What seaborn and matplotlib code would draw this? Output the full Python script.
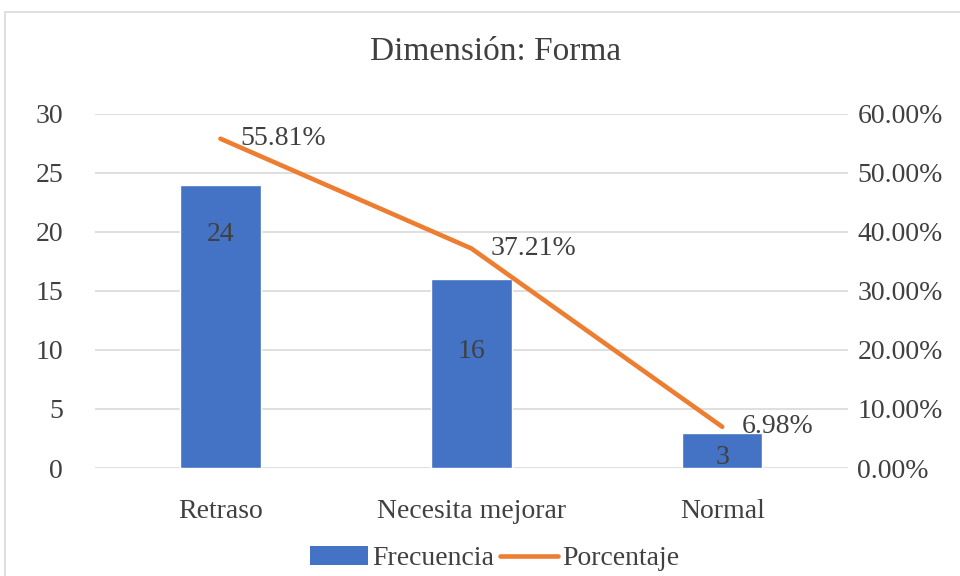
import pandas as pd
import matplotlib.pyplot as plt
import seaborn as sns
from matplotlib.patches import Patch, Rectangle
from matplotlib.lines import Line2D

# datos del gráfico
categorias = ["Retraso", "Necesita mejorar", "Normal"]
frecuencia = [24, 16, 3]
porcentaje = [55.81, 37.21, 6.98]
etiquetas_pct = ["55.81%", "37.21%", "6.98%"]
ticks_izq = [0, 5, 10, 15, 20, 25, 30]
ticks_der = [0, 10, 20, 30, 40, 50, 60]

azul = "#4472C4"
naranja = "#ED7D31"
gris_texto = "#404040"

sns.set_style("white")
plt.rcParams["font.family"] = ["Liberation Serif", "DejaVu Serif"]

df = pd.DataFrame({"categoria": categorias, "frecuencia": frecuencia, "porcentaje": porcentaje})

fig = plt.figure(figsize=(9.6, 5.76), dpi=100)
ax = fig.add_axes([0.099, 0.1875, 0.784, 0.6146])

sns.barplot(data=df, x="categoria", y="frecuencia", color=azul, width=0.32,
            saturation=1, ax=ax, zorder=3)
ax.set_ylim(0, 30)
ax.set_xlim(-0.5, 2.5)
ax.set_yticks(ticks_izq)
ax.yaxis.grid(True, color="#D9D9D9", linewidth=1.2, zorder=0)
ax.set_axisbelow(True)
for s in ax.spines.values():
    s.set_visible(False)
ax.set_xlabel("")
ax.set_ylabel("")
ax.tick_params(axis="y", length=0, pad=23, labelsize=20, labelcolor=gris_texto)
ax.tick_params(axis="x", length=0, pad=22, labelsize=20, labelcolor=gris_texto)

# etiquetas de las barras (desplazamiento en pixeles bajo el tope)
desp_barras = [-50, -72, -25]
for i, (v, d) in enumerate(zip(frecuencia, desp_barras)):
    ax.annotate(str(v), (i, v), xytext=(0, d * 0.72), textcoords="offset points",
                ha="center", va="center", fontsize=20, color=gris_texto, zorder=5)

ax2 = ax.twinx()
sns.lineplot(data=df, x="categoria", y="porcentaje", color=naranja, linewidth=3.3,
             ax=ax2, zorder=4, sort=False)
ax2.set_ylim(0, 60)
ax2.set_yticks(ticks_der)
ax2.set_yticklabels([f"{t:.2f}%" for t in ticks_der])
for s in ax2.spines.values():
    s.set_visible(False)
ax2.set_ylabel("")
ax2.set_xlabel("")
ax2.tick_params(axis="y", length=0, pad=7, labelsize=20, labelcolor=gris_texto)

for i, (p, t) in enumerate(zip(porcentaje, etiquetas_pct)):
    ax2.annotate(t, (i, p), xytext=(14, 0), textcoords="offset points",
                 ha="left", va="center", fontsize=20, color=gris_texto)

fig.text(0.516, 0.91, "Dimensión: Forma", ha="center", va="center",
         fontsize=24, color=gris_texto)

handles = [Patch(facecolor=azul, edgecolor="none"),
           Line2D([0], [0], color=naranja, linewidth=3.3)]
fig.legend(handles, ["Frecuencia", "Porcentaje"], loc="center",
           bbox_to_anchor=(0.515, 0.03), ncol=2, frameon=False, fontsize=20,
           handlelength=2.1, handleheight=0.7, handletextpad=0.15, columnspacing=0.2,
           labelcolor=gris_texto)

# marco del área del gráfico
fig.patches.append(Rectangle((5 / 960, -0.1), 1.2, 1 - 12 / 576 + 0.1,
                             transform=fig.transFigure, fill=False,
                             edgecolor="#D9D9D9", linewidth=1.2))

fig.savefig("out.png", dpi=100)
